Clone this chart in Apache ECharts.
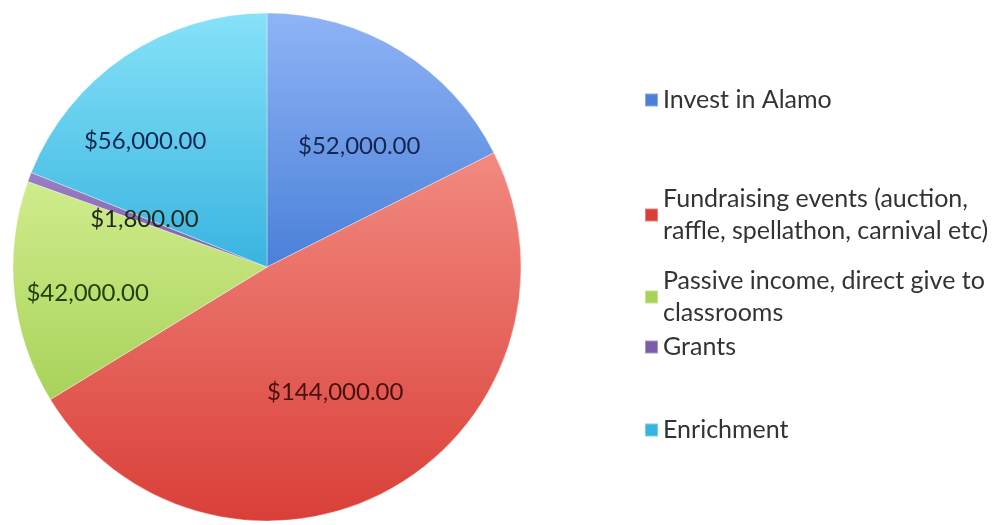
<!DOCTYPE html>
<html>
<head>
<meta charset="utf-8">
<script src="https://cdn.jsdelivr.net/npm/echarts@6/dist/echarts.min.js"></script>
<style>
html,body{margin:0;padding:0;background:#fff;}
#chart{width:1002px;height:525px;}
</style>
</head>
<body>
<div id="chart"></div>
<script>
var categories = ['Invest in Alamo', 'Fundraising events (auction, raffle, spellathon, carnival etc)', 'Passive income, direct give to classrooms', 'Grants', 'Enrichment'];
var legendLines = [['Invest in Alamo'], ['Fundraising events (auction,', 'raffle, spellathon, carnival etc)'], ['Passive income, direct give to', 'classrooms'], ['Grants'], ['Enrichment']];
var values = [52000, 144000, 42000, 1800, 56000];
var valueLabels = ['$52,000.00', '$144,000.00', '$42,000.00', '$1,800.00', '$56,000.00'];

var topColors = ['#8fb4f6', '#f28a80', '#d0ec8c', '#9a80c4', '#86e2f8'];
var bottomColors = ['#4a80d8', '#d93f38', '#a8d25a', '#7a5ca8', '#38b4e0'];
var labelColors = ['#14264f', '#4a0f0f', '#25400e', '#222a1c', '#14264f'];
var labelOffsets = [[24, -10], [5, 12], [-50, 13], [-1, -2], [-49, -18]];
var legendFirstLineY = [100, 183, 265, 347, 430];

var chart = echarts.init(document.getElementById('chart'));
var FONT = 'Lato, "Open Sans", sans-serif';

var data = categories.map(function (c, i) {
  return {
    name: c,
    value: values[i],
    itemStyle: {
      color: new echarts.graphic.LinearGradient(0, 0, 0, 1, [
        {offset: 0, color: topColors[i]},
        {offset: 1, color: bottomColors[i]}
      ])
    },
    label: {color: labelColors[i]}
  };
});

var legends = categories.map(function (c, i) {
  return {
    orient: 'vertical',
    left: 644,
    top: legendFirstLineY[i] - 16,
    padding: 0,
    itemWidth: 13,
    itemHeight: 13,
    icon: 'rect',
    itemGap: 0,
    selectedMode: false,
    data: [{name: c, itemStyle: {color: bottomColors[i]}}],
    formatter: function () { return legendLines[i].join('\n'); },
    textStyle: {
      fontFamily: FONT,
      fontSize: 25,
      color: '#333',
      lineHeight: 32,
      padding: legendLines[i].length > 1 ? [32, 0, 0, 0] : 0
    }
  };
});

chart.setOption({
  animation: false,
  backgroundColor: '#fff',
  legend: legends,
  series: [{
    type: 'pie',
    center: [267, 267],
    radius: 254,
    startAngle: 90,
    clockwise: true,
    avoidLabelOverlap: false,
    data: data,
    itemStyle: {
      borderColor: 'rgba(255,255,255,0.35)',
      borderWidth: 1
    },
    label: {
      show: true,
      position: 'inside',
      fontFamily: FONT,
      fontSize: 24,
      formatter: function (p) { return valueLabels[p.dataIndex]; }
    },
    labelLine: {show: false},
    labelLayout: function (p) {
      var o = labelOffsets[p.dataIndex];
      return {dx: o[0], dy: o[1]};
    },
    emphasis: {disabled: true}
  }]
});
</script>
</body>
</html>
